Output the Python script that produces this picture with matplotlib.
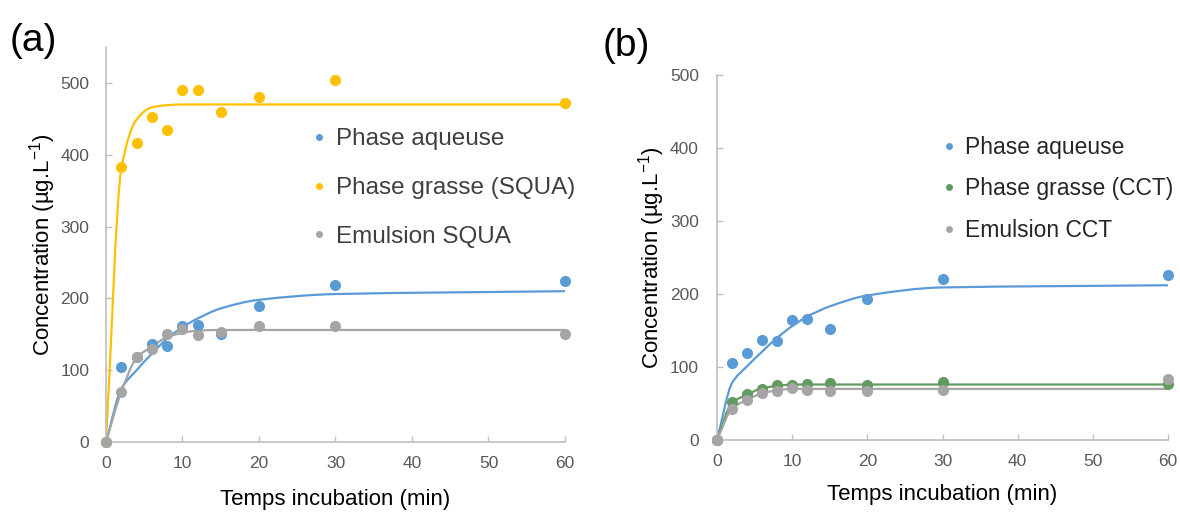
import matplotlib
matplotlib.use("Agg")
import matplotlib.pyplot as plt
from matplotlib.path import Path
from matplotlib.patches import PathPatch

plt.rcParams['font.family'] = ['Liberation Sans', 'DejaVu Sans']
plt.rcParams['mathtext.fontset'] = 'custom'
plt.rcParams['mathtext.rm'] = 'Liberation Sans'
plt.rcParams['mathtext.it'] = 'Liberation Sans:italic'

# ------------------------------------------------------------
# data
# ------------------------------------------------------------
t = [0, 2, 4, 6, 8, 10, 12, 15, 20, 30, 60]

# panel (a) : squalene
a_aq_pts   = [0, 104, 118, 136, 133, 162, 163, 151, 190, 218, 224]
a_fat_pts  = [0, 383, 417, 452, 435, 490, 490, 460, 480, 504, 472]
a_emu_pts  = [0, 70, 118, 130, 151, 158, 149, 153, 161, 161, 151]
a_aq_fit   = [0, 74, 100, 123, 144, 160, 172, 186, 198, 206, 210]
a_fat_fit  = [0, 380, 449, 466, 469, 470, 470, 470, 470, 470, 470]
a_emu_fit  = [0, 70, 117, 133, 146, 152, 155, 156, 156, 156, 156]

# panel (b) : CCT
b_aq_pts   = [0, 105, 119, 137, 135, 164, 166, 152, 193, 220, 226]
b_fat_pts  = [0, 52, 63, 70, 75, 76, 77, 78, 76, 80, 77]
b_emu_pts  = [0, 43, 55, 64, 67, 71, 69, 67, 67, 68, 84]
b_aq_fit   = [0, 78, 101, 121, 140, 156, 169, 183, 198, 209, 212]
b_fat_fit  = [0, 51, 62, 71, 74, 76, 76, 76, 76, 76, 76]
b_emu_fit  = [0, 43, 55, 64, 68, 70, 70, 70, 70, 70, 70]

labels_a = ["Phase aqueuse", "Phase grasse (SQUA)", "Emulsion SQUA"]
labels_b = ["Phase aqueuse", "Phase grasse (CCT)", "Emulsion CCT"]

c_blue   = '#5B9BD5'
c_yellow = '#FFC000'
c_gray   = '#A5A5A5'
c_green  = '#629B5F'

axis_col = '#BFBFBF'
tick_txt = '#595959'


def smooth_path(xs, ys):
    # smoothed line through the points (monotone Hermite -> Bezier segments)
    n = len(xs)
    sec = [(ys[i + 1] - ys[i]) / (xs[i + 1] - xs[i]) for i in range(n - 1)]
    m = [sec[0]]
    for i in range(1, n - 1):
        a, b = sec[i - 1], sec[i]
        m.append(0.0 if a * b <= 0 else 2 * a * b / (a + b))
    m.append(sec[-1])
    verts = [(xs[0], ys[0])]
    codes = [Path.MOVETO]
    for i in range(n - 1):
        h = xs[i + 1] - xs[i]
        verts += [(xs[i] + h / 3, ys[i] + m[i] * h / 3),
                  (xs[i + 1] - h / 3, ys[i + 1] - m[i + 1] * h / 3),
                  (xs[i + 1], ys[i + 1])]
        codes += [Path.CURVE4] * 3
    return Path(verts, codes)


def style_axes(ax, ymax, ytop, pad_y, xlabpad):
    ax.set_xlim(0, 60)
    ax.set_ylim(0, ymax)
    ax.set_xticks(range(0, 61, 10))
    ax.set_yticks(range(0, ytop + 1, 100))
    for s in ['top', 'right']:
        ax.spines[s].set_visible(False)
    for s in ['left', 'bottom']:
        ax.spines[s].set_color(axis_col)
        ax.spines[s].set_linewidth(1.2)
    ax.tick_params(axis='both', direction='in', length=4, width=1,
                   color=axis_col, labelcolor=tick_txt, labelsize=12.5)
    ax.tick_params(axis='y', pad=pad_y)
    ax.tick_params(axis='x', pad=10)
    ax.set_xlabel("Temps incubation (min)", fontsize=16, labelpad=xlabpad)
    ax.set_ylabel(r"Concentration (µg.L$^{-1}$)", fontsize=16, labelpad=2)


def draw(ax, series):
    handles = []
    for pts, fit, col, lab in series:
        ax.add_patch(PathPatch(smooth_path(t, fit), facecolor='none',
                               edgecolor=col, lw=1.6, zorder=2))
        ax.plot(t, pts, 'o', color=col, ms=8, mec='none', zorder=3, clip_on=False)
        h, = ax.plot([], [], 'o', color=col, ms=5, mec='none', label=lab)
        handles.append(h)
    return handles


fig = plt.figure(figsize=(11.8, 5.14), dpi=100)

# panel (a)
ax1 = fig.add_axes([106 / 1180, 72 / 514, 459 / 1180, 395 / 514])
h1 = draw(ax1, [(a_aq_pts, a_aq_fit, c_blue, labels_a[0]),
                (a_fat_pts, a_fat_fit, c_yellow, labels_a[1]),
                (a_emu_pts, a_emu_fit, c_gray, labels_a[2])])
style_axes(ax1, 550, 500, 12, 13)
leg1 = ax1.legend(handles=h1, loc='center left', bbox_to_anchor=(0.405, 0.643),
                  fontsize=17.5, frameon=True, facecolor='white', edgecolor='none',
                  framealpha=0.9, handlelength=0.6, handletextpad=0.4,
                  labelspacing=1.1, borderpad=0.3)
for txt in leg1.get_texts():
    txt.set_color('#404040')

# panel (b)
ax2 = fig.add_axes([717 / 1180, 74 / 514, 451 / 1180, 365 / 514])
h2 = draw(ax2, [(b_aq_pts, b_aq_fit, c_blue, labels_b[0]),
                (b_fat_pts, b_fat_fit, c_green, labels_b[1]),
                (b_emu_pts, b_emu_fit, c_gray, labels_b[2])])
style_axes(ax2, 500, 500, 13, 11)
leg2 = ax2.legend(handles=h2, loc='center left', bbox_to_anchor=(0.459, 0.688),
                  fontsize=16.5, frameon=False, handlelength=0.6,
                  handletextpad=0.4, labelspacing=0.8, borderpad=0.3)
for txt in leg2.get_texts():
    txt.set_color('#262626')

fig.text(10 / 1180, 1 - 41 / 514, "(a)", fontsize=28, va='center', ha='left')
fig.text(603 / 1180, 1 - 46 / 514, "(b)", fontsize=28, va='center', ha='left')

fig.savefig("out.png", dpi=100)
